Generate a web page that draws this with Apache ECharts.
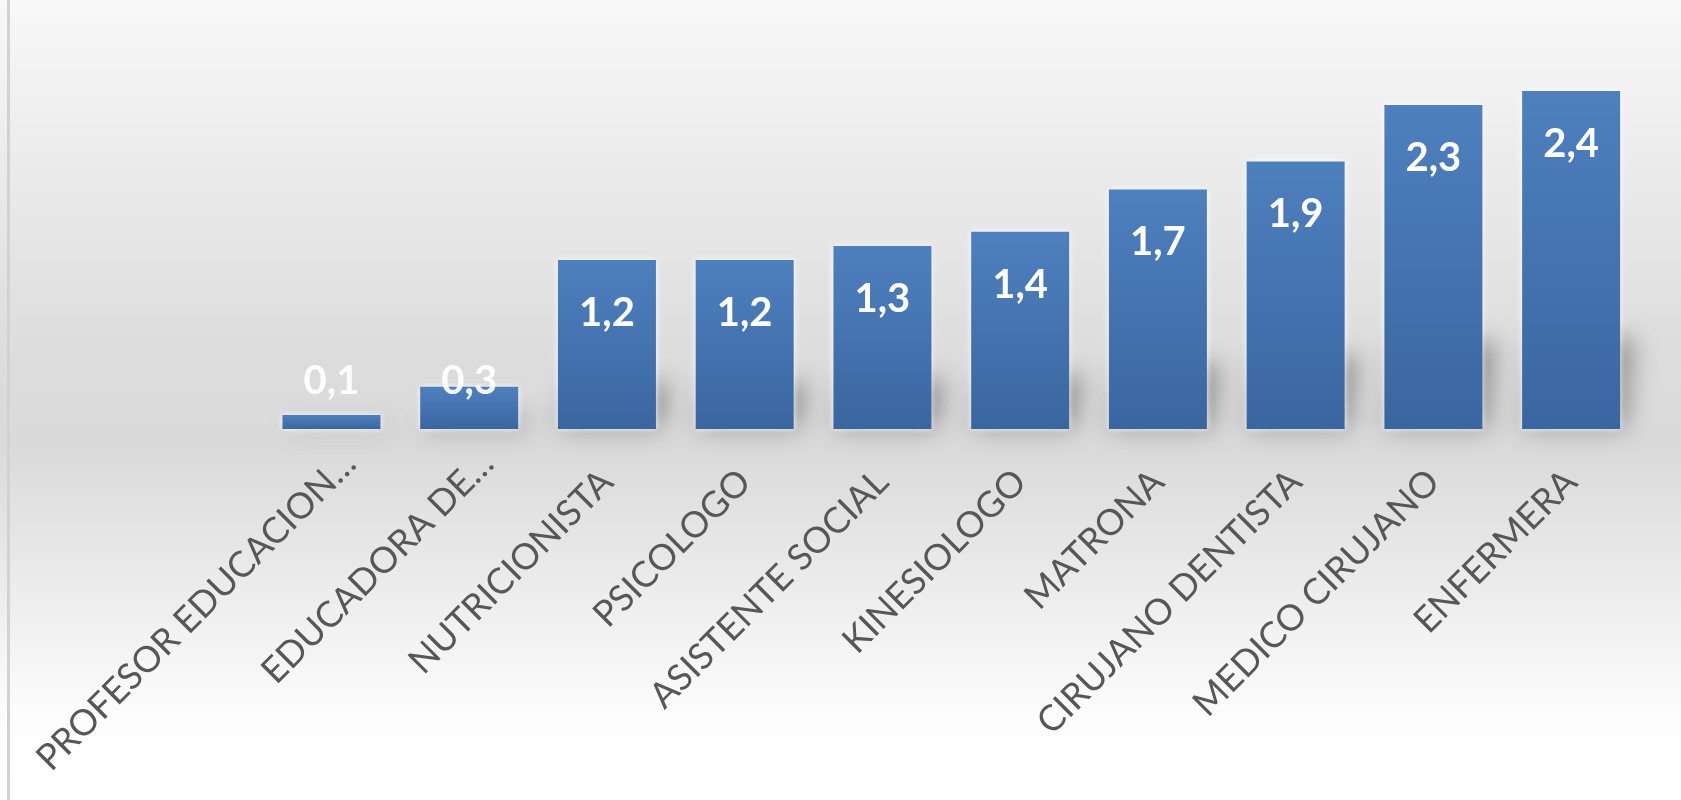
<!DOCTYPE html>
<html>
<head>
<meta charset="utf-8">
<script src="https://cdn.jsdelivr.net/npm/echarts@6/dist/echarts.min.js"></script>
<style>
  html, body { margin: 0; padding: 0; }
  #chart { width: 1681px; height: 800px; }
</style>
</head>
<body>
<div id="chart"></div>
<script>
// Professions (categories) and their values
const categories = [
  'PROFESOR EDUCACION…',
  'EDUCADORA DE…',
  'NUTRICIONISTA',
  'PSICOLOGO',
  'ASISTENTE SOCIAL',
  'KINESIOLOGO',
  'MATRONA',
  'CIRUJANO DENTISTA',
  'MEDICO CIRUJANO',
  'ENFERMERA'
];
const values = [0.1, 0.3, 1.2, 1.2, 1.3, 1.4, 1.7, 1.9, 2.3, 2.4];

const fmt = v => String(v.toFixed(1)).replace('.', ',');

const LABEL_FONT = 36;
const LABEL_FAMILY = 'Lato';

// Truncated names sit a little further along their baseline
const measureCtx = document.createElement('canvas').getContext('2d');
measureCtx.font = LABEL_FONT + 'px ' + LABEL_FAMILY;
const truncShift = 26;
const rich = {};
categories.forEach((c, i) => {
  if (c.endsWith('…')) {
    rich['t' + i] = {
      width: Math.max(10, measureCtx.measureText(c).width - truncShift),
      align: 'left',
      overflow: 'none'
    };
  }
});

const chart = echarts.init(document.getElementById('chart'), null, { renderer: 'canvas' });

// Short bars get their label placed just above the baseline
const barData = values.map(v => v < 0.5
  ? { value: v, label: { position: 'insideBottom', distance: 48, verticalAlign: 'middle', color: 'rgba(255,255,255,0.92)' } }
  : v);

const OFF = 4000; // shadow shapes are drawn off-canvas; only their blurred shadow shows

const option = {
  backgroundColor: {
    type: 'linear', x: 0, y: 0, x2: 0, y2: 1,
    colorStops: [
      { offset: 0, color: '#f8f8f8' },
      { offset: 0.45, color: '#dcdcdc' },
      { offset: 0.56, color: '#dadada' },
      { offset: 0.9, color: '#fdfdfd' },
      { offset: 1, color: '#ffffff' }
    ]
  },
  graphic: [
    { type: 'rect', left: 7, top: 0, shape: { width: 3, height: 800 }, style: { fill: '#d2d2d2' }, z: 10 }
  ],
  grid: { left: 262.6, right: 41, top: 6.5, bottom: 371, containLabel: false, outerBoundsMode: 'none' },
  xAxis: {
    type: 'category',
    data: categories,
    axisLine: { show: false },
    axisTick: { show: false },
    axisLabel: {
      interval: 0,
      rotate: 45,
      margin: 47,
      color: '#575757',
      fontFamily: LABEL_FAMILY,
      fontSize: LABEL_FONT,
      formatter: (val, idx) => rich['t' + idx] ? '{t' + idx + '|' + val + '}' : val,
      rich: rich
    }
  },
  yAxis: {
    type: 'value',
    min: 0,
    max: 3,
    show: false,
    splitLine: { show: false }
  },
  series: [
    {
      // soft perspective shadow falling behind each bar
      type: 'custom',
      clip: false,
      silent: true,
      z: 1,
      data: values.map((v, i) => [i, v]),
      renderItem: function (params, api) {
        const base = api.coord([api.value(0), 0]);
        const top = api.coord([api.value(0), api.value(1)]);
        const h = (base[1] - top[1]) * 0.27;
        const w = api.size([1, 0])[0] * 0.71;
        const cx = base[0];
        const skew = 14;
        return {
          type: 'polygon',
          shape: {
            points: [
              [cx - w / 2 - OFF, base[1]],
              [cx + w / 2 + 6 - OFF, base[1]],
              [cx + w / 2 + skew - OFF, base[1] - h],
              [cx - w / 2 + skew - OFF, base[1] - h]
            ]
          },
          style: {
            fill: '#000',
            shadowColor: 'rgba(50,50,50,0.42)',
            shadowBlur: 24,
            shadowOffsetX: OFF,
            shadowOffsetY: 0
          }
        };
      }
    },
    {
      type: 'bar',
      data: barData,
      barWidth: 98,
      z: 2,
      itemStyle: {
        color: {
          type: 'linear', x: 0, y: 0, x2: 0, y2: 1,
          colorStops: [
            { offset: 0, color: '#4e80be' },
            { offset: 1, color: '#3a66a0' }
          ]
        },
        shadowColor: 'rgba(255,255,255,0.95)',
        shadowBlur: 6
      },
      label: {
        show: true,
        position: ['50%', 53],
        align: 'center',
        verticalAlign: 'middle',
        color: '#ffffff',
        fontFamily: 'Lato',
        fontWeight: 'bold',
        fontSize: 40,
        formatter: p => fmt(p.value)
      }
    }
  ]
};

chart.setOption(option);
</script>
</body>
</html>
